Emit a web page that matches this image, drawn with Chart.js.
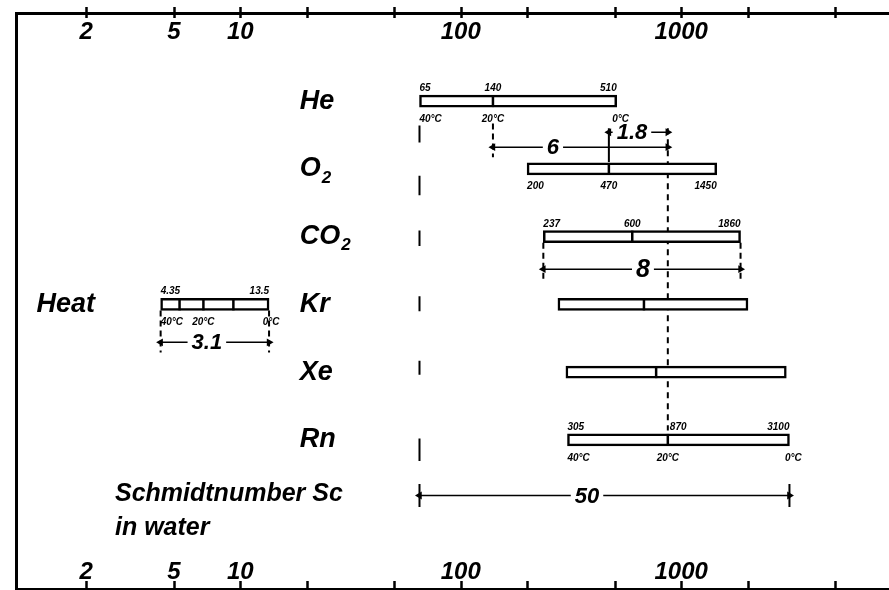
<!DOCTYPE html>
<html>
<head>
<meta charset="utf-8">
<script src="https://cdn.jsdelivr.net/npm/chart.js@4/dist/chart.umd.min.js"></script>
<style>
  html, body { margin: 0; padding: 0; background: #fff; }
  #wrap { width: 889px; height: 590px; position: relative; }
</style>
</head>
<body>
<div id="wrap"><canvas id="schmidtChart"></canvas></div>
<script>
// Schmidt numbers in water at 40 °C, 20 °C and 0 °C, one row per gas
var gases = ['He', 'O2', 'CO2', 'Kr', 'Xe', 'Rn'];
var rows = [1, 2, 3, 4, 5, 6];
var sc40 = [65, 200, 237, 276, 300, 305];
var sc20 = [140, 470, 600, 678, 770, 870];
var sc0 = [510, 1450, 1860, 2010, 3000, 3100];
var numberSide = ['top', 'bottom', 'top', '', '', 'top'];
var showTemps = [true, false, false, false, false, true];

// heat (Prandtl number) sits on the Kr row
var heatRow = 4;
var heatRange = [4.35, 13.5];
var heatMarks = [5.3, 6.8, 9.3];

// ratio arrows
var ratioText = ['6', '1.8', '8', '3.1', '50'];
var ratioLow = [140, 470, 237, 4.35, 65];
var ratioHigh = [870, 870, 1860, 13.5, 3100];

// log axis ticks
var tickValues = [2, 5, 10, 20, 50, 100, 200, 500, 1000, 2000, 5000];
var tickLabels = [2, 5, 10, 100, 1000];

// placement of the annotations (row units / x value of the number)
var ratioRow = [1.68, 1.46, 3.48, 4.56, 6.82];
var ratioTextAt = [262, 598, 671, 7.05, 374];
var guides = [
  { x: 65, y: [1.36, 1.61], dash: [] },
  { x: 65, y: [2.10, 2.39], dash: [] },
  { x: 65, y: [2.91, 3.14], dash: [] },
  { x: 65, y: [3.88, 4.10], dash: [] },
  { x: 65, y: [4.83, 5.04], dash: [] },
  { x: 65, y: [5.98, 6.31], dash: [] },
  { x: 870, y: [1.40, 5.86], dash: [6, 5] },
  { x: 140, y: [1.33, 1.83], dash: [6, 4] },
  { x: 470, y: [1.40, 1.90], dash: [] },
  { x: 237, y: [3.09, 3.65], dash: [6, 4] },
  { x: 1860, y: [3.09, 3.65], dash: [6, 4] },
  { x: 4.35, y: [4.09, 4.71], dash: [6, 4] },
  { x: 13.5, y: [4.09, 4.71], dash: [6, 4] },
  { x: 65, y: [6.65, 6.99], dash: [] },
  { x: 3100, y: [6.65, 6.99], dash: [] }
];

var FAM = '"Liberation Sans", Arial, sans-serif';
var INK = '#000';

var barData = gases.map(function (g, i) { return { x: [sc40[i], sc0[i]], y: rows[i] }; });
barData.push({ x: heatRange.slice(), y: heatRow });

var markData = gases.map(function (g, i) { return { x: sc20[i], y: rows[i] }; });
heatMarks.forEach(function (v) { markData.push({ x: v, y: heatRow }); });

var datasets = [
  {
    type: 'line', data: markData, showLine: false, order: 0,
    pointStyle: 'line', pointRotation: 90, pointRadius: 6,
    pointBorderWidth: 2.5, pointBorderColor: INK
  },
  {
    type: 'bar', indexAxis: 'y', data: barData, order: 1, grouped: false,
    backgroundColor: '#fff', borderColor: INK, borderWidth: 2.5,
    borderSkipped: false, barThickness: 12
  }
];

guides.forEach(function (g) {
  datasets.push({
    type: 'line', order: 2, pointRadius: 0,
    data: [{ x: g.x, y: g.y[0] }, { x: g.x, y: g.y[1] }],
    borderColor: INK, borderWidth: 2, borderDash: g.dash
  });
});

ratioText.forEach(function (t, i) {
  datasets.push({
    type: 'line', order: 2,
    data: [{ x: ratioLow[i], y: ratioRow[i] }, { x: ratioHigh[i], y: ratioRow[i] }],
    borderColor: INK, borderWidth: 1.5,
    pointStyle: 'triangle', pointRadius: 4.5,
    pointRotation: function (c) { return c.dataIndex === 0 ? 270 : 90; },
    pointBackgroundColor: INK, pointBorderWidth: 0
  });
});

function axisOpts(pos, pad) {
  return {
    type: 'logarithmic', position: pos, min: 0.96, max: 8770,
    offset: false, beginAtZero: false,
    afterBuildTicks: function (s) { s.ticks = tickValues.map(function (v) { return { value: v }; }); },
    ticks: {
      mirror: true, padding: pad, autoSkip: false, maxRotation: 0, color: INK,
      font: { family: FAM, size: 24, style: 'italic', weight: 'bold' },
      callback: function (v) { return tickLabels.indexOf(v) >= 0 ? String(v) : ''; }
    },
    grid: { display: false, drawTicks: false },
    border: { display: true, color: INK, width: 3 }
  };
}

function put(ctx, text, x, y, font, align, base) {
  ctx.font = font;
  ctx.textAlign = align || 'left';
  ctx.textBaseline = base || 'middle';
  ctx.fillText(text, x, y);
}

var sketchText = {
  id: 'sketchText',
  afterDraw: function (chart) {
    var ctx = chart.ctx, xs = chart.scales.x, ys = chart.scales.y, ca = chart.chartArea;
    var px = function (v) { return xs.getPixelForValue(v); };
    var py = function (r) { return ys.getPixelForValue(r); };
    ctx.save();
    ctx.fillStyle = INK;
    ctx.strokeStyle = INK;

    // tick marks across the top and bottom axis lines
    ctx.lineWidth = 2.5;
    tickValues.forEach(function (v) {
      var x = Math.round(px(v)) + 0.5;
      ctx.beginPath();
      ctx.moveTo(x, ca.top - 6); ctx.lineTo(x, ca.top + 5);
      ctx.moveTo(x, ca.bottom - 8); ctx.lineTo(x, ca.bottom);
      ctx.stroke();
    });

    var small = 'italic bold 10px ' + FAM;
    var big = 'italic bold 27px ' + FAM;

    // gas names
    gases.forEach(function (g, i) {
      var y = py(rows[i]);
      var x = px(18.6);
      if (g.slice(-1) === '2') {
        var base = g.slice(0, -1);
        put(ctx, base, x, y, big);
        var w = ctx.measureText(base).width;
        put(ctx, '2', x + w + 1, y + 9, 'italic bold 17px ' + FAM);
      } else {
        put(ctx, g, x, y, big);
      }

      // Schmidt numbers and temperatures at the bar
      var y0 = y - 10, y1 = y + 21;
      if (numberSide[i]) {
        var ny = numberSide[i] === 'top' ? y0 : y1 - 1;
        put(ctx, String(sc40[i]), px(sc40[i]), ny, small, 'left', 'alphabetic');
        if (i === 5) put(ctx, String(sc20[i]), px(sc20[i]) + 2, ny, small, 'left', 'alphabetic');
        else put(ctx, String(sc20[i]), px(sc20[i]), ny, small, 'center', 'alphabetic');
        put(ctx, String(sc0[i]), px(sc0[i]), ny, small, 'right', 'alphabetic');
      }
      if (showTemps[i]) {
        put(ctx, '40°C', px(sc40[i]), y1, small, 'left', 'alphabetic');
        put(ctx, '20°C', px(sc20[i]), y1, small, 'center', 'alphabetic');
        put(ctx, '0°C', px(sc0[i]) + 4, y1, small, 'center', 'alphabetic');
      }
    });

    // heat bar labels
    var hy = py(heatRow);
    put(ctx, 'Heat', px(1.19), hy, big);
    put(ctx, String(heatRange[0]), px(heatRange[0]), hy - 10, small, 'left', 'alphabetic');
    put(ctx, String(heatRange[1]), px(heatRange[1]), hy - 10, small, 'right', 'alphabetic');
    put(ctx, '40°C', px(heatRange[0]), hy + 21, small, 'left', 'alphabetic');
    put(ctx, '20°C', px(heatMarks[1]), hy + 21, small, 'center', 'alphabetic');
    put(ctx, '0°C', px(heatRange[1]) + 2, hy + 21, small, 'center', 'alphabetic');

    // ratio numbers on the arrows
    ratioText.forEach(function (t, i) {
      var size = t === '8' ? 25 : 22;
      var f = 'italic bold ' + size + 'px ' + FAM;
      ctx.font = f;
      var w = ctx.measureText(t).width;
      var x = px(ratioTextAt[i]), y = py(ratioRow[i]);
      ctx.fillStyle = '#fff';
      ctx.fillRect(x - w / 2 - 4, y - 3, w + 8, 6);
      ctx.fillStyle = INK;
      put(ctx, t, x, y + 1, f, 'center');
    });

    // axis caption
    put(ctx, 'Schmidtnumber Sc', px(2.7), py(6.80), 'italic 600 25px ' + FAM);
    put(ctx, 'in water', px(2.7), py(7.30), 'italic 600 25px ' + FAM);
    ctx.restore();
  }
};

var schmidtChart = new Chart(document.getElementById('schmidtChart'), {
  type: 'line',
  data: { datasets: datasets },
  options: {
    responsive: true,
    maintainAspectRatio: false,
    devicePixelRatio: 1,
    animation: false,
    events: [],
    layout: { autoPadding: false, padding: { top: 3, left: 16, right: 0, bottom: -3 } },
    plugins: { legend: { display: false }, tooltip: { enabled: false } },
    scales: {
      x: axisOpts('top', 5),
      x2: axisOpts('bottom', 2),
      y: {
        type: 'linear', reverse: true, min: -0.30, max: 8.2,
        offset: false, beginAtZero: false,
        ticks: { display: false },
        grid: { display: false, drawTicks: false },
        border: { display: true, color: INK, width: 3 }
      }
    }
  },
  plugins: [sketchText]
});
</script>
</body>
</html>
